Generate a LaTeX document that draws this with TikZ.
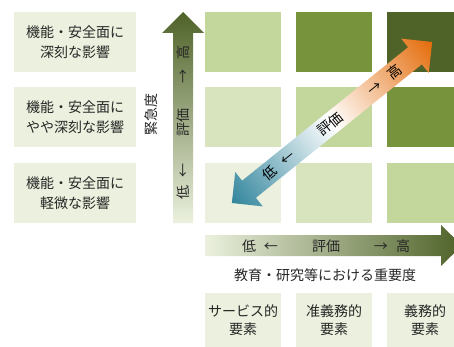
\documentclass[tikz,border=0pt]{standalone}
\usepackage{fontspec}
\setmainfont{Noto Sans CJK JP}
\definecolor{pmA}{HTML}{EBF1DE}
\definecolor{pmB}{HTML}{D7E4BD}
\definecolor{pmC}{HTML}{C3D69B}
\definecolor{pmD}{HTML}{77933C}
\definecolor{pmE}{HTML}{4F6228}
\definecolor{pmTeal}{HTML}{31859C}
\definecolor{pmOrange}{HTML}{E46C0A}
\tikzset{
    pm cell/.style={minimum width=76pt, minimum height=60pt, inner sep=0pt},
    pm label/.style={fill=pmA, minimum width=122pt, minimum height=60pt,
                     inner sep=0pt, align=center, text=black!85,
                     font=\fontsize{14pt}{20pt}\selectfont},
    pm elem/.style={fill=pmA, minimum width=76pt, minimum height=54pt,
                    inner sep=0pt, align=center, text=black!85,
                    font=\fontsize{14pt}{18pt}\selectfont},
    pm axis/.style={inner sep=0pt, text=black!85,
                    font=\fontsize{14pt}{18pt}\selectfont},
}

\begin{document}
\begin{tikzpicture}[x=1pt, y=-1pt]
    \clip (0,0) rectangle (454,347);
    % Row 1 (top)
    \node[pm cell, fill=pmC] (c13) at (243, 42) {};
    \node[pm cell, fill=pmD] (c23) at (334, 42) {};
    \node[pm cell, fill=pmE] (c33) at (425, 42) {};
    % Row 2 (middle)
    \node[pm cell, fill=pmB] (c12) at (243, 117) {};
    \node[pm cell, fill=pmC] (c22) at (334, 117) {};
    \node[pm cell, fill=pmD] (c32) at (425, 117) {};
    % Row 3 (bottom)
    \node[pm cell, fill=pmA] (c11) at (243, 193) {};
    \node[pm cell, fill=pmB] (c21) at (334, 193) {};
    \node[pm cell, fill=pmC] (c31) at (425, 193) {};
    % Impact labels on the left
    \node[pm label] (imp3) at (75, 42)  {機能・安全面に\\深刻な影響};
    \node[pm label] (imp2) at (75, 117) {機能・安全面に\\やや深刻な影響};
    \node[pm label] (imp1) at (75, 193) {機能・安全面に\\軽微な影響};
    % Element labels at the bottom
    \node[pm elem] (el1) at (243, 320) {サービス的\\要素};
    \node[pm elem] (el2) at (334, 320) {准義務的\\要素};
    \node[pm elem] (el3) at (425, 320) {義務的\\要素};
    % Vertical axis (urgency)
    \shade[top color=pmE, bottom color=pmA]
        (173,223) -- (173,33) -- (162,33) -- (183,12) -- (204,33)
        -- (193,33) -- (193,223) -- cycle;
    \node[pm axis, rotate=90] (vval) at (183, 123)
        {低\hspace{9pt}←\hspace{26pt}評価\hspace{26pt}→\hspace{9pt}高};
    \node[pm axis, rotate=90] (vname) at (151, 115) {緊急度};
    % Horizontal axis (importance)
    \shade[left color=pmA, right color=pmE]
        (205,235) -- (441,235) -- (441,225) -- (462,245.5) -- (441,266)
        -- (441,256) -- (205,256) -- cycle;
    \node[pm axis] (hval) at (326, 246)
        {低\hspace{8pt}←\hspace{34pt}評価\hspace{34pt}→\hspace{8pt}高};
    \node[pm axis] (hname) at (325, 275) {教育・研究等における重要度};
    % Diagonal arrow (overall evaluation)
    \begin{scope}[transform canvas={shift={(332,122.5)}, rotate=38.8}]
        \shade[left color=pmTeal, right color=pmOrange, middle color=white]
            (-128.5,0) -- (-106.5,-22) -- (-106.5,-11) -- (106.5,-11)
            -- (106.5,-22) -- (128.5,0) -- (106.5,22) -- (106.5,11)
            -- (-106.5,11) -- (-106.5,22) -- cycle;
    \end{scope}
    \node[pm axis, text=black, rotate=38.8] (dval) at (332, 122.5)
        {低\hspace{10pt}←\hspace{33pt}評価\hspace{36pt}→\hspace{12pt}高};
\end{tikzpicture}
\end{document}
